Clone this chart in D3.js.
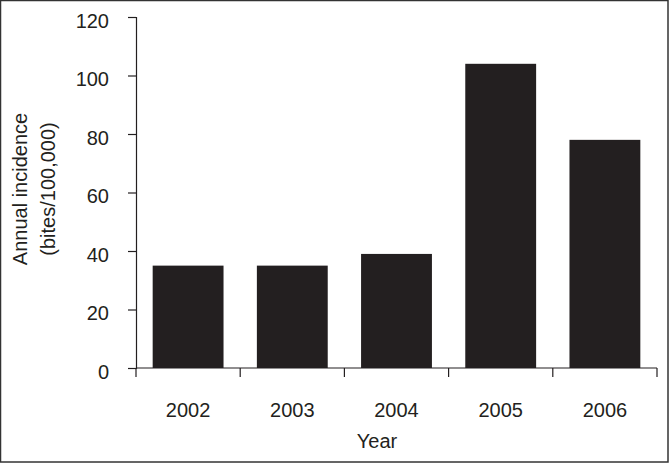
<!DOCTYPE html>
<html>
<head>
<meta charset="utf-8">
<script src="https://cdn.jsdelivr.net/npm/d3@7"></script>
<style>
  body { margin: 0; background: #fff; }
  svg { display: block; font-family: "Liberation Sans", Arial, sans-serif; }
</style>
</head>
<body>
<svg id="chart" width="669" height="463"></svg>
<script>
const years = ["2002", "2003", "2004", "2005", "2006"];
const incidence = [35, 35, 39, 104, 78];
const yTicks = [0, 20, 40, 60, 80, 100, 120];

const margin = { top: 17, right: 12, bottom: 95, left: 136 };
const W = 669, H = 463;
const plotRight = W - margin.right;
const fs = 20;
const ink = "#231f20";

const svg = d3.select("#chart");

// frame round the picture
svg.append("rect")
    .attr("x", 0.5).attr("y", 0.5)
    .attr("width", W - 1.5).attr("height", H - 1.5)
    .attr("fill", "none").attr("stroke", "#333").attr("stroke-width", 1.5);

const x = d3.scaleBand()
    .domain(years)
    .range([margin.left, plotRight])
    .paddingInner(0.32)
    .paddingOuter(0.16);

const y = d3.scaleLinear()
    .domain([0, 120])
    .range([368, margin.top]);

// bars
svg.selectAll("rect.bar")
    .data(years)
    .enter()
    .append("rect")
    .attr("class", "bar")
    .attr("x", d => x(d))
    .attr("width", x.bandwidth())
    .attr("y", (d, i) => y(incidence[i]))
    .attr("height", (d, i) => y(0) - y(incidence[i]))
    .attr("fill", ink);

// y axis
const yAxis = svg.append("g")
    .attr("transform", `translate(${margin.left},0)`)
    .call(d3.axisLeft(y).tickValues(yTicks).tickSize(8).tickPadding(19));

yAxis.select(".domain").attr("stroke", ink).attr("stroke-width", 1.2);
yAxis.selectAll(".tick line").attr("stroke", ink).attr("stroke-width", 1.2);
yAxis.selectAll(".tick text")
    .attr("font-size", fs)
    .attr("dy", "0.5em")
    .attr("fill", ink)
    .attr("font-family", "Liberation Sans, Arial, sans-serif");

// x axis, ticks sit on the category boundaries
const boundary = i => margin.left + i * (plotRight - margin.left) / years.length;
const xg = svg.append("g");
xg.append("line")
    .attr("x1", margin.left).attr("x2", plotRight)
    .attr("y1", y(0)).attr("y2", y(0))
    .attr("stroke", ink).attr("stroke-width", 1.2);
xg.selectAll("line.tk")
    .data(d3.range(years.length + 1))
    .enter()
    .append("line")
    .attr("class", "tk")
    .attr("x1", boundary)
    .attr("x2", boundary)
    .attr("y1", y(0)).attr("y2", y(0) + 9)
    .attr("stroke", ink).attr("stroke-width", 1.2);
xg.selectAll("text")
    .data(years)
    .enter()
    .append("text")
    .attr("x", d => x(d) + x.bandwidth() / 2)
    .attr("y", 417)
    .attr("text-anchor", "middle")
    .attr("font-size", fs)
    .attr("fill", ink)
    .text(d => d);

// axis titles
svg.append("text")
    .attr("x", 377).attr("y", 448)
    .attr("text-anchor", "middle")
    .attr("font-size", fs)
    .attr("fill", ink)
    .text("Year");

const yl = svg.append("text")
    .attr("transform", "translate(0,189) rotate(-90)")
    .attr("text-anchor", "middle")
    .attr("font-size", fs)
    .attr("fill", ink);
yl.append("tspan").attr("x", 0).attr("y", 27).text("Annual incidence");
yl.append("tspan").attr("x", 0).attr("y", 55).text("(bites/100,000)");
</script>
</body>
</html>
